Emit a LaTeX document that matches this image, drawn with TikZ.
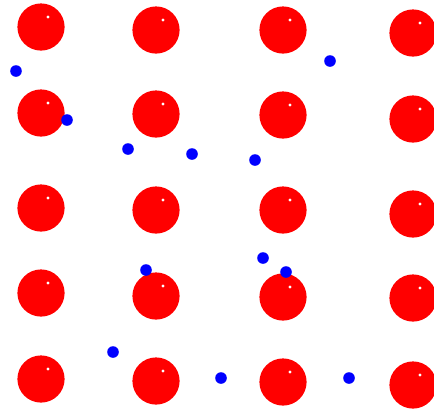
\documentclass[tikz,border=0pt]{standalone}
\begin{document}
\begin{tikzpicture}[x=0.25mm,y=-0.25mm,line join=round]
  % Keep the frame of the original image.
  \useasboundingbox (0,0) rectangle (434,408);

  % Large spheres, row by row.
  \coordinate (s11) at (41,27);
  \coordinate (s12) at (156,30);
  \coordinate (s13) at (283,30);
  \coordinate (s14) at (413,33);
  \coordinate (s21) at (41,113);
  \coordinate (s22) at (156,114);
  \coordinate (s23) at (283,115);
  \coordinate (s24) at (413,119);
  \coordinate (s31) at (41,208);
  \coordinate (s32) at (156,210);
  \coordinate (s33) at (283,210);
  \coordinate (s34) at (413,214);
  \coordinate (s41) at (41,293);
  \coordinate (s42) at (156,296);
  \coordinate (s43) at (283,297);
  \coordinate (s44) at (413,298);
  \coordinate (s51) at (41,379);
  \coordinate (s52) at (156,381);
  \coordinate (s53) at (283,382);
  \coordinate (s54) at (413,385);

  % Small particles between the spheres.
  \coordinate (d0) at (16,71);
  \coordinate (d1) at (67,120);
  \coordinate (d2) at (128,149);
  \coordinate (d3) at (192,154);
  \coordinate (d4) at (255,160);
  \coordinate (d5) at (330,61);
  \coordinate (d6) at (146,270);
  \coordinate (d7) at (263,258);
  \coordinate (d8) at (286,272);
  \coordinate (d9) at (113,352);
  \coordinate (d10) at (221,378);
  \coordinate (d11) at (349,378);

  % Spheres first, each with a small highlight.
  \foreach \s in {s11,s12,s13,s14,s21,s22,s23,s24,s31,s32,s33,s34,s41,s42,s43,s44,s51,s52,s53,s54} {
    \fill[red] (\s) circle[radius=5.9mm];
    \fill[white] ([shift={(7,-10)}]\s) circle[radius=0.4mm];
  }

  % Particles on top.
  \foreach \d in {d0,d1,d2,d3,d4,d5,d6,d7,d8,d9,d10,d11}
    \fill[blue] (\d) circle[radius=1.45mm];
\end{tikzpicture}
\end{document}
